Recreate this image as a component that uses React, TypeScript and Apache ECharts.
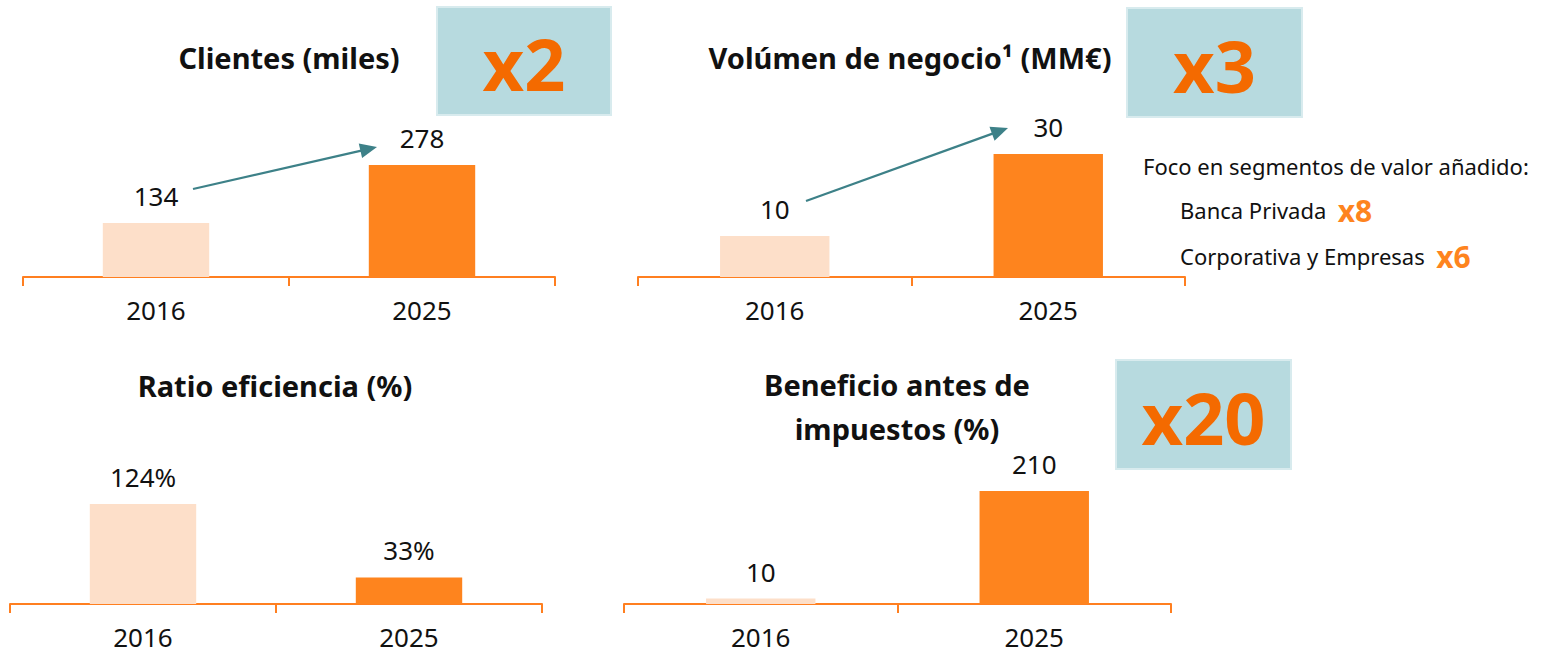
import React, { useEffect, useRef } from 'react';
import * as echarts from 'echarts';

// ---- data ----
const years = ['2016', '2025'];
const clientes = [134, 278];
const volumen = [10, 30];
const eficiencia = [124, 33];
const beneficio = [10, 210];
const titles = ['Clientes (miles)', 'Volúmen de negocio¹ (MM€)', 'Ratio eficiencia (%)', 'Beneficio antes de\nimpuestos (%)'];
const multipliers = ['x2', 'x3', 'x20'];
const focoTitle = 'Foco en segmentos de valor añadido:';
const focoNames = ['Banca Privada', 'Corporativa y Empresas'];
const focoMult = ['x8', 'x6'];

// ---- style ----
const LIGHT = '#FDDFC9';
const DARK = '#FE841E';
const AXIS = '#FF7F20';
const ORANGE_TXT = '#F46A00';
const TEAL = '#3D8188';
const BOX = '#B7DADF';
const BOX_EDGE = '#D8EBEE';
const FONT = '"Noto Sans", sans-serif';
const TXT = '#111111';

const grids = [
  { left: 23, top: 165, width: 532, height: 112 },
  { left: 638, top: 154, width: 547, height: 123 },
  { left: 10, top: 504, width: 532, height: 100 },
  { left: 624, top: 491, width: 547, height: 113 },
];
const seriesData = [clientes, volumen, eficiencia, beneficio];
const formats = ['{c}', '{c}', '{c}%', '{c}'];

function arrow(x1: number, y1: number, x2: number, y2: number) {
  const dx = x2 - x1;
  const dy = y2 - y1;
  const len = Math.sqrt(dx * dx + dy * dy);
  const ux = dx / len;
  const uy = dy / len;
  const hl = 17;
  const hw = 7.5;
  const bx = x2 - ux * hl;
  const by = y2 - uy * hl;
  return [
    {
      type: 'line',
      shape: { x1, y1, x2: bx + ux * 2, y2: by + uy * 2 },
      style: { stroke: TEAL, lineWidth: 2.2 },
    },
    {
      type: 'polygon',
      shape: {
        points: [
          [x2, y2],
          [bx - uy * hw, by + ux * hw],
          [bx + uy * hw, by - ux * hw],
        ],
      },
      style: { fill: TEAL },
    },
  ];
}

function box(x: number, y: number, w: number, h: number, label: string) {
  return [
    {
      type: 'rect',
      shape: { x, y, width: w, height: h },
      style: { fill: BOX, stroke: BOX_EDGE, lineWidth: 2 },
    },
    {
      type: 'text',
      x: x + w / 2,
      y: y + h / 2 + 2,
      style: {
        text: label,
        fill: ORANGE_TXT,
        font: `bold 72px ${FONT}`,
        align: 'center',
        verticalAlign: 'middle',
      },
    },
  ];
}

function titleText(x: number, y: number, text: string) {
  return {
    type: 'text',
    x,
    y,
    style: {
      text,
      fill: TXT,
      font: `bold 29px ${FONT}`,
      align: 'center',
      verticalAlign: 'middle',
      lineHeight: 44,
    },
  };
}

export default function App() {
  const ref = useRef<HTMLDivElement>(null);

  useEffect(() => {
    if (!ref.current) return;
    const chart = echarts.init(ref.current, undefined, { renderer: 'svg' });

    const option: any = {
      animation: false,
      backgroundColor: '#ffffff',
      grid: grids.map((g) => ({ ...g, containLabel: false })),
      xAxis: grids.map((_, i) => ({
        type: 'category',
        gridIndex: i,
        data: years,
        axisLine: { show: true, lineStyle: { color: AXIS, width: 2 } },
        axisTick: { show: true, length: 9, lineStyle: { color: AXIS, width: 2 } },
        axisLabel: { fontSize: 26, color: TXT, margin: 20, fontFamily: FONT },
        splitLine: { show: false },
      })),
      yAxis: grids.map((_, i) => ({
        type: 'value',
        gridIndex: i,
        min: 0,
        max: 'dataMax',
        show: false,
      })),
      series: seriesData.map((vals, i) => ({
        type: 'bar',
        xAxisIndex: i,
        yAxisIndex: i,
        barWidth: '40%',
        data: vals.map((v, j) => ({ value: v, itemStyle: { color: j === 0 ? LIGHT : DARK } })),
        label: {
          show: true,
          position: 'top',
          distance: 14,
          fontSize: 26,
          color: TXT,
          fontFamily: FONT,
          formatter: formats[i],
        },
      })),
      graphic: [
        titleText(289, 57, titles[0]),
        titleText(910, 57, titles[1]),
        titleText(275, 385, titles[2]),
        titleText(897, 406, titles[3]),
        ...box(437, 7, 174, 108, multipliers[0]),
        ...box(1127, 8, 175, 109, multipliers[1]),
        ...box(1116, 360, 175, 109, multipliers[2]),
        ...arrow(193, 189, 377, 147),
        ...arrow(806, 201, 1008, 128),
        {
          type: 'text',
          x: 1143,
          y: 166,
          style: {
            text: focoTitle,
            fill: TXT,
            font: `22px ${FONT}`,
            align: 'left',
            verticalAlign: 'middle',
          },
        },
        ...focoNames.map((n, i) => ({
          type: 'text',
          x: 1180,
          y: i === 0 ? 210 : 256,
          style: {
            text: `${n}  {o|${focoMult[i]}}`,
            fill: TXT,
            font: `22px ${FONT}`,
            align: 'left',
            verticalAlign: 'middle',
            rich: {
              o: { fill: DARK, font: `bold 30px ${FONT}` },
            },
          },
        })),
      ],
    };

    chart.setOption(option);
    return () => chart.dispose();
  }, []);

  return (
    <div
      ref={ref}
      style={{ position: 'fixed', left: 0, top: 0, width: 1545, height: 654, background: '#fff' }}
    />
  );
}
